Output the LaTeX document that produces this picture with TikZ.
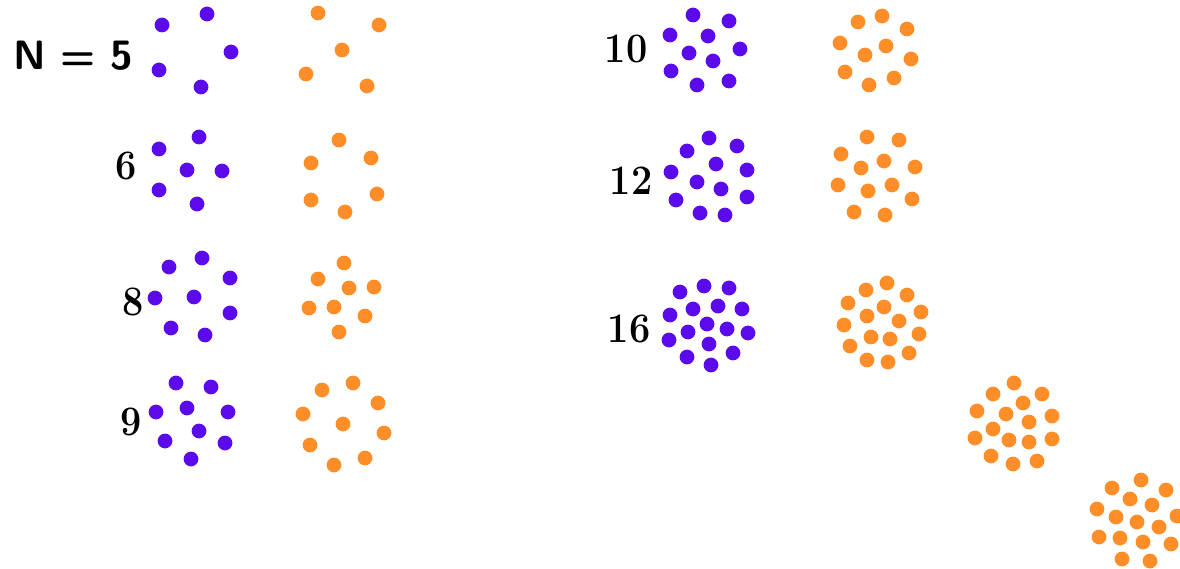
\documentclass[tikz,border=0pt]{standalone}
\usepackage{tikz}
\definecolor{DotPurple}{HTML}{5A0AEB}
\definecolor{DotOrange}{HTML}{FF8D28}

\begin{document}
\begin{tikzpicture}[
    x=1pt, y=-1pt,
    count/.style={anchor=base east, font=\fontsize{42}{48}\selectfont\bfseries},
    r/.store in=\dotr, r=7.4
]
    % Frame and clip
    \useasboundingbox (0,0) rectangle (1180,569);
    \clip (0,0) rectangle (1180,569);

    % Labels
    \node[count, font=\fontsize{41}{48}\selectfont\sffamily\bfseries] (lab5) at (137,70) {N = 5};
    \node[count] (lab6) at (140,180) {\scalebox{0.9}[1]{6}};
    \node[count] (lab8) at (147,315) {\scalebox{0.9}[1]{8}};
    \node[count] (lab9) at (145,435) {\scalebox{0.9}[1]{9}};
    \node[count] (lab10) at (651,63) {\scalebox{0.9}[1]{10}};
    \node[count] (lab12) at (656,195) {\scalebox{0.9}[1]{12}};
    \node[count] (lab16) at (654,342) {\scalebox{0.9}[1]{16}};

    % Purple clusters
    \foreach \x/\y in {162/25, 207/14, 231/52, 159/70, 201/87,
                       159/149, 199/137, 187/170, 222/171, 159/190, 197/204,
                       169/267, 202/258, 230/278, 155/298, 194/297, 230/313, 171/328, 205/335,
                       176/383, 211/387, 156/412, 187/408, 228/412, 199/431, 165/441, 225/443, 191/459}
        \fill[DotPurple] (\x,\y) circle (\dotr);
    \foreach \x/\y in {693/15, 729/21, 670/35, 708/36, 740/49, 689/53, 713/61, 671/71, 697/85, 729/81,
                       709/138, 687/151, 737/146, 671/172, 716/164, 747/170, 697/182, 721/189, 676/200, 747/197, 700/213, 725/215,
                       680/292, 704/286, 729/288, 693/309, 718/306, 742/309, 670/315, 707/324,
                       688/332, 727/329, 748/333, 669/340, 709/344, 687/357, 733/353, 711/365}
        \fill[DotPurple] (\x,\y) circle (\dotr);

    % Orange clusters
    \foreach \x/\y in {318/13, 379/25, 342/50, 306/74, 367/86,
                       339/140, 311/163, 371/158, 311/200, 377/194, 345/212,
                       344/263, 318/279, 349/288, 374/287, 309/308, 334/307, 365/316, 339/332,
                       322/390, 353/383, 378/403, 303/414, 343/424, 384/433, 310/445, 365/458, 334/465}
        \fill[DotOrange] (\x,\y) circle (\dotr);
    \foreach \x/\y in {858/22, 882/16, 907/29, 840/43, 886/46, 865/55, 911/59, 845/72, 894/78, 869/85,
                       867/137, 899/140, 841/154, 884/161, 861/168, 915/167, 838/185, 868/191, 892/185, 912/199, 854/212, 885/215,
                       866/290, 887/283, 907/295, 848/303, 884/307, 921/312, 867/316, 899/321,
                       844/325, 871/337, 890/339, 919/334, 850/346, 909/353, 867/360, 888/362}
        \fill[DotOrange] (\x,\y) circle (\dotr);
    \foreach \x/\y in {1014/383, 993/394, 1042/394, 1023/403, 977/411, 1006/414, 1052/416, 1029/422,
                       993/429, 975/438, 1009/440, 1029/442, 1052/439, 991/456, 1013/464, 1037/461,
                       1141/480, 1112/488, 1166/490, 1130/499, 1152/505, 1097/509, 1116/517, 1137/522,
                       1177/516, 1159/527, 1099/537, 1120/538, 1143/542, 1171/544, 1122/559, 1150/561}
        \fill[DotOrange] (\x,\y) circle (\dotr);
\end{tikzpicture}
\end{document}
